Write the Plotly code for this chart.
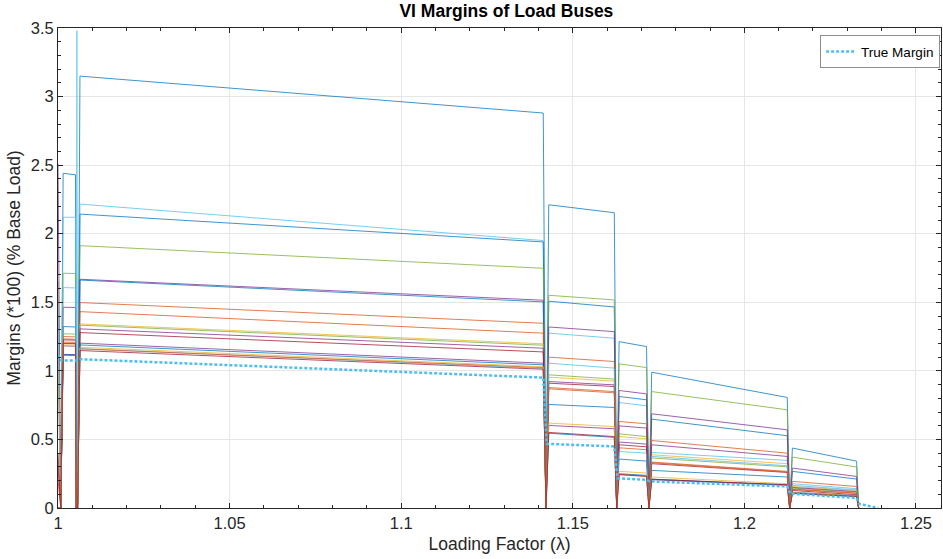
import plotly.graph_objects as go

# Loading factor breakpoints shared by every load-bus trace
LAMBDA = [1.0000, 1.0008, 1.0015, 1.0051, 1.0053, 1.0055, 1.0057, 1.0064,
          1.1414, 1.1422, 1.1430, 1.1621, 1.1628, 1.1635, 1.1715, 1.1722,
          1.1730, 1.2125, 1.2132, 1.2140, 1.2327, 1.2333]

# VI margin of each load bus at the breakpoints above
BUS_01 = [0, 0, 2.44, 2.43, 0, 0, 0, 3.149, 2.880, 0, 2.211, 2.153, 0, 1.213, 1.177, 0, 0.990, 0.806, 0, 0.437, 0.342, 0]
BUS_02 = [0, 0, 2.12, 2.12, 0, 0, 0, 2.216, 1.950, 0, 1.275, 1.238, 0, 0.769, 0.745, 0, 0.405, 0.347, 0, 0.177, 0.141, 0]
BUS_03 = [0, 0, 1.323, 1.320, 0, 0, 0, 2.143, 1.940, 0, 1.508, 1.466, 0, 0.813, 0.789, 0, 0.648, 0.527, 0, 0.267, 0.211, 0]
BUS_04 = [1.65, 0, 1.712, 1.710, 0, 0, 0, 1.913, 1.748, 0, 1.551, 1.517, 0, 1.051, 1.024, 0, 0.849, 0.716, 0, 0.371, 0.299, 0]
BUS_05 = [2.51, 0, 1.464, 1.462, 0, 0, 0, 1.668, 1.515, 0, 1.320, 1.286, 0, 0.857, 0.832, 0, 0.687, 0.570, 0, 0.291, 0.230, 0]
BUS_06 = [0, 0, 1.120, 1.118, 0, 0, 0, 1.662, 1.503, 0, 0.755, 0.733, 0, 0.357, 0.342, 0, 0.274, 0.226, 0, 0.115, 0.090, 0]
BUS_07 = [1.10, 0, 1.233, 1.231, 0, 0, 0, 1.498, 1.347, 0, 1.100, 1.068, 0, 0.631, 0.614, 0, 0.492, 0.400, 0, 0.194, 0.157, 0]
BUS_08 = [0.20, 0, 1.250, 1.248, 0, 0, 0, 1.432, 1.275, 0, 0.878, 0.849, 0, 0.439, 0.425, 0, 0.335, 0.267, 0, 0.138, 0.109, 0]
BUS_09 = [1.20, 0, 1.202, 1.200, 0, 0, 0, 1.342, 1.197, 0, 0.954, 0.925, 0, 0.521, 0.505, 0, 0.388, 0.323, 0, 0.157, 0.128, 0]
BUS_10 = [0, 0, 1.270, 1.268, 0, 0, 0, 1.333, 1.187, 0, 0.971, 0.940, 0, 0.541, 0.521, 0, 0.365, 0.300, 0, 0.145, 0.116, 0]
BUS_11 = [0, 0, 1.182, 1.180, 0, 0, 0, 1.306, 1.165, 0, 0.922, 0.898, 0, 0.599, 0.583, 0, 0.461, 0.376, 0, 0.150, 0.120, 0]
BUS_12 = [0.40, 0, 1.226, 1.224, 0, 0, 0, 1.279, 1.138, 0, 0.910, 0.886, 0, 0.461, 0.446, 0, 0.323, 0.259, 0, 0.128, 0.097, 0]
BUS_13 = [0, 0, 1.117, 1.115, 0, 0, 0, 1.202, 1.056, 0, 0.602, 0.578, 0, 0.481, 0.466, 0, 0.206, 0.168, 0, 0.110, 0.086, 0]
BUS_14 = [0, 0, 1.115, 1.113, 0, 0, 0, 1.189, 1.044, 0, 0.545, 0.515, 0, 0.250, 0.238, 0, 0.210, 0.165, 0, 0.107, 0.083, 0]
BUS_15 = [1.45, 0, 1.607, 1.605, 0, 3.48, 0, 1.162, 1.018, 0, 1.056, 1.020, 0, 0.412, 0.400, 0, 0.376, 0.308, 0, 0.165, 0.132, 0]
BUS_16 = [0, 0, 1.210, 1.208, 0, 0, 0, 1.160, 1.024, 0, 0.869, 0.840, 0, 0.245, 0.233, 0, 0.330, 0.262, 0, 0.135, 0.106, 0]
BUS_17 = [0, 0, 1.190, 1.188, 0, 0, 0, 1.172, 1.030, 0, 0.619, 0.594, 0, 0.267, 0.255, 0, 0.226, 0.177, 0, 0.112, 0.088, 0]
BUS_18 = [0.30, 0, 1.200, 1.198, 0, 0, 0, 1.148, 1.012, 0, 0.551, 0.521, 0, 0.243, 0.230, 0, 0.210, 0.170, 0, 0.108, 0.084, 0]

# True (system) margin
TM_LAMBDA = [1.0000, 1.0010, 1.0055, 1.0064, 1.1414, 1.1424, 1.1621, 1.1630,
             1.1715, 1.1724, 1.2125, 1.2134, 1.2327, 1.2335, 1.2390]
TM_VALUES = [1.117, 1.075, 1.076, 1.085, 0.951, 0.468, 0.449, 0.216,
             0.206, 0.194, 0.157, 0.104, 0.073, 0.030, 0.000]

# MATLAB default line colour order
BLUE, ORANGE, YELLOW, PURPLE = "#0072BD", "#D95319", "#EDB120", "#7E2F8E"
GREEN, LIGHTBLUE, DARKRED = "#77AC30", "#4DBEEE", "#A2142F"

BUSES = [
    (BUS_01, BLUE), (BUS_02, LIGHTBLUE), (BUS_03, BLUE), (BUS_04, GREEN),
    (BUS_05, PURPLE), (BUS_06, BLUE), (BUS_07, ORANGE), (BUS_08, ORANGE),
    (BUS_09, YELLOW), (BUS_10, GREEN), (BUS_11, PURPLE), (BUS_12, DARKRED),
    (BUS_13, PURPLE), (BUS_14, BLUE), (BUS_15, LIGHTBLUE), (BUS_16, ORANGE),
    (BUS_17, YELLOW), (BUS_18, DARKRED),
]

FONT = "Liberation Sans, Arial, sans-serif"
INK = "#262626"

fig = go.Figure()
for values, color in BUSES:
    fig.add_trace(go.Scatter(
        x=LAMBDA, y=values, mode="lines", showlegend=False, hoverinfo="skip",
        line=dict(color=color, width=1), opacity=0.75,
    ))

fig.add_trace(go.Scatter(
    x=TM_LAMBDA, y=TM_VALUES, mode="lines", name="True Margin",
    line=dict(color=LIGHTBLUE, width=2.5, dash="3px,2px"),
))

axis_common = dict(
    showline=True, linecolor=INK, linewidth=1, mirror="ticks",
    ticks="inside", ticklen=5, tickcolor=INK,
    showgrid=True, gridcolor="#e6e6e6", gridwidth=1, zeroline=False,
    tickfont=dict(family=FONT, size=16.5, color=INK),
)

fig.update_layout(
    width=943, height=559,
    margin=dict(l=58, r=2, t=28, b=51),
    paper_bgcolor="white", plot_bgcolor="white",
    title=dict(text="<b>VI Margins of Load Buses</b>", x=0.537, xanchor="center",
               y=0.992, yanchor="top",
               font=dict(family=FONT, size=17.5, color="#000000")),
    xaxis=dict(range=[1, 1.2573], tick0=1, dtick=0.05,
               minor=dict(ticks="inside", dtick=0.01, ticklen=3, tickcolor=INK, showgrid=False),
               title=dict(text="Loading Factor (λ)", standoff=6,
                          font=dict(family=FONT, size=17.5, color=INK)),
               **axis_common),
    yaxis=dict(range=[0, 3.5], tick0=0, dtick=0.5,
               minor=dict(ticks="inside", dtick=0.1, ticklen=3, tickcolor=INK, showgrid=False),
               title=dict(text="Margins (*100) (% Base Load)", standoff=5,
                          font=dict(family=FONT, size=17.5, color=INK)),
               **axis_common),
    legend=dict(x=0.999, xanchor="right", y=0.985, yanchor="top",
                bgcolor="white", bordercolor="#8c8c8c", borderwidth=1,
                font=dict(family=FONT, size=13.5, color="#000000"),
                itemwidth=30, tracegroupgap=0),
)

fig.write_html("out.html")
